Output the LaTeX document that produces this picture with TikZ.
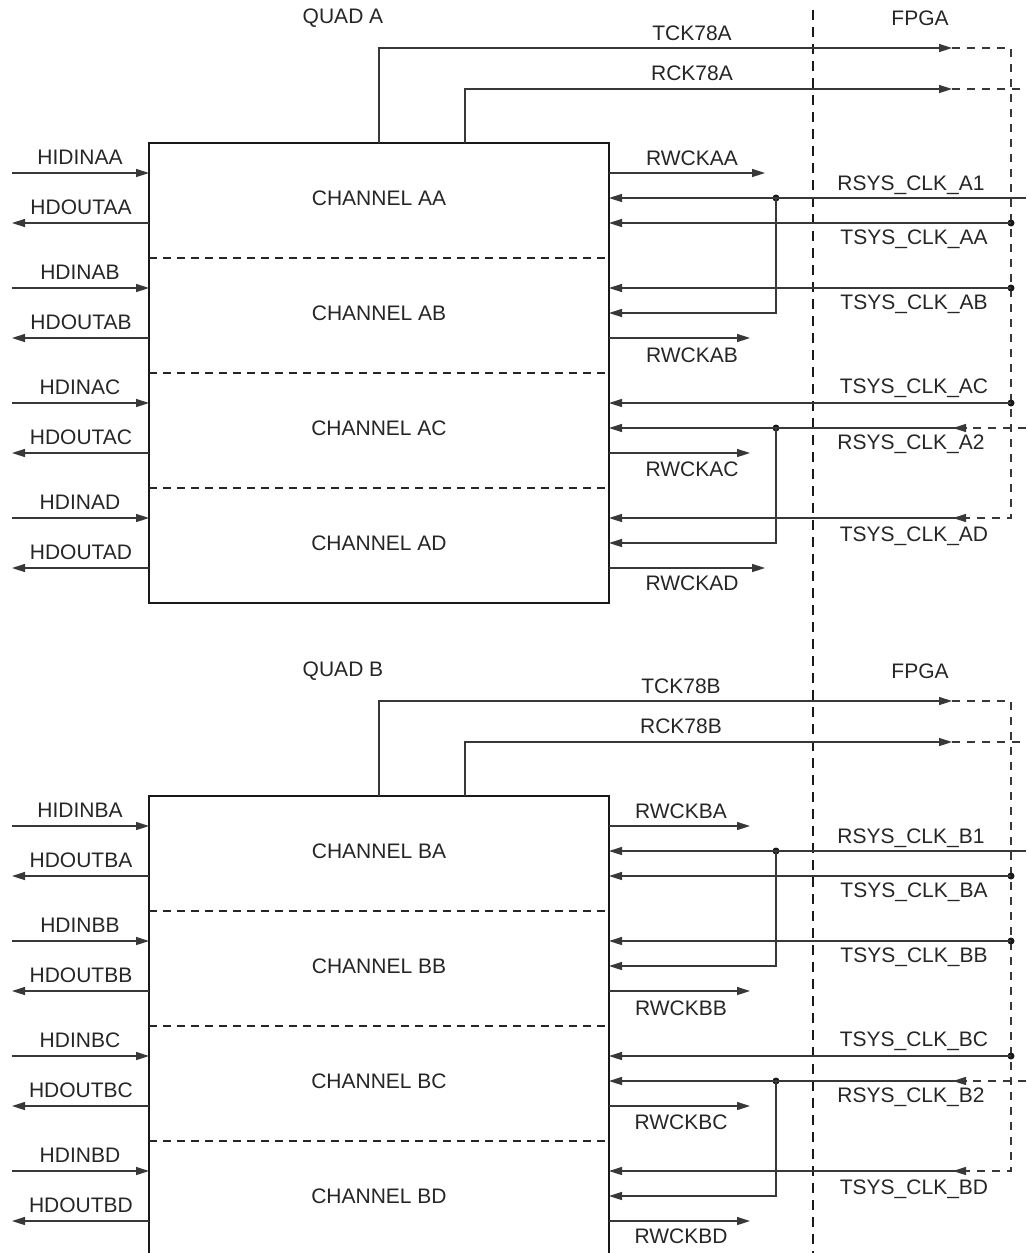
\documentclass[tikz,border=0pt]{standalone}
\usepackage{fontspec}
\setmainfont{Liberation Sans}
\usetikzlibrary{arrows.meta}

\begin{document}
\begin{tikzpicture}[x=1pt,y=-1pt,
  wire/.style={line width=1.5pt,draw=black!78},
  sig/.style={wire,-{Triangle[length=13pt,width=8pt]}},
  blk/.style={draw=black!90,line width=2.4pt,inner sep=0pt,outer sep=0pt},
  divider/.style={draw=black!85,line width=2.2pt,dash pattern=on 8pt off 6pt},
  border/.style={draw=black!90,line width=2.8pt,dash pattern=on 10pt off 7pt},
  fpgaedge/.style={draw=black!78,line width=1.3pt,dash pattern=on 8pt off 7pt},
  lbl/.style={font=\fontsize{21}{24}\selectfont,text=black!85,inner sep=0pt},
  junction/.style={circle,fill=black!90,inner sep=0pt,minimum size=7pt},
]
\useasboundingbox (0,0) rectangle (1026,1253);
\clip (0,0) rectangle (1026,1253);

% chip / FPGA boundary
\coordinate (bndT) at (813,10);
\coordinate (bndB) at (813,1253);
\draw[border] (bndT) -- (bndB);

\foreach \q/\dy/\rx/\ra/\rd in {A/0/692/765/765,B/653/681/750/750}{
\begin{scope}[shift={(0,\dy)}]
  % quad block split into four channels
  \node[blk,anchor=north west,minimum width=460pt,minimum height=460pt] (box\q) at (149,143) {};
  \foreach \yy in {258,373,488} \draw[divider] (149,\yy) -- (609,\yy);
  \foreach \k/\yy in {A/198,B/313,C/428,D/543}
    \node[lbl] (ch\q\k) at (379,\yy) {CHANNEL \q\k};

  \node[lbl] (quad\q) at (343,18) {QUAD \q};
  \node[lbl] (fpga\q) at (920,18) {FPGA};

  % host side data pins
  \foreach \k/\i/\nin in {A/0/HIDIN,B/1/HDIN,C/2/HDIN,D/3/HDIN}{
    \coordinate (hin\q\k) at (12,{173+115*\i});
    \coordinate (pin\q\k) at (149,{173+115*\i});
    \draw[sig] (hin\q\k) -- (pin\q\k);
    \node[lbl] (lin\q\k) at (80,{157+115*\i}) {\nin\q\k};
    \coordinate (pout\q\k) at (149,{223+115*\i});
    \coordinate (hout\q\k) at (12,{223+115*\i});
    \draw[sig] (pout\q\k) -- (hout\q\k);
    \node[lbl] (lout\q\k) at (81,{207+115*\i}) {HDOUT\q\k};
  }

  % transmit / receive reference clocks to the FPGA
  \coordinate (tckS\q) at (379,143);
  \coordinate (tckC\q) at (379,48);
  \coordinate (tckE\q) at (952,48);
  \coordinate (rckS\q) at (465,143);
  \coordinate (rckC\q) at (465,89);
  \coordinate (rckE\q) at (952,89);
  \coordinate (rckF\q) at (1026,89);
  \coordinate (fpTop\q) at (1011,48);
  \coordinate (fpBot\q) at (1011,518);
  \draw[sig] (tckS\q) -- (tckC\q) -- (tckE\q);
  \draw[sig] (rckS\q) -- (rckC\q) -- (rckE\q);
  \draw[fpgaedge] (tckE\q) -- (fpTop\q) -- (fpBot\q) -- (967,518);
  \draw[fpgaedge] (rckE\q) -- (rckF\q);
  \node[lbl] (tckL\q) at (\rx,33) {TCK78\q};
  \node[lbl] (rckL\q) at (\rx,73) {RCK78\q};

  % recovered word clocks
  \coordinate (rwA\q) at (609,173); \coordinate (rwAe\q) at (\ra,173);
  \coordinate (rwB\q) at (609,338); \coordinate (rwBe\q) at (750,338);
  \coordinate (rwC\q) at (609,453); \coordinate (rwCe\q) at (750,453);
  \coordinate (rwD\q) at (609,568); \coordinate (rwDe\q) at (\rd,568);
  \draw[sig] (rwA\q) -- (rwAe\q);
  \draw[sig] (rwB\q) -- (rwBe\q);
  \draw[sig] (rwC\q) -- (rwCe\q);
  \draw[sig] (rwD\q) -- (rwDe\q);
  \node[lbl] (rwAL\q) at (\rx,158) {RWCK\q A};
  \node[lbl] (rwBL\q) at (\rx,355) {RWCK\q B};
  \node[lbl] (rwCL\q) at (\rx,469) {RWCK\q C};
  \node[lbl] (rwDL\q) at (\rx,583) {RWCK\q D};

  % system clocks from the FPGA
  \node[junction] (j1\q) at (776,198) {};
  \node[junction] (j2\q) at (776,428) {};
  \node[junction] (ta\q) at (1011,223) {};
  \node[junction] (tb\q) at (1011,288) {};
  \node[junction] (tc\q) at (1011,403) {};
  \coordinate (rs1F\q) at (1026,198);
  \coordinate (rs1P\q) at (609,198);
  \coordinate (taP\q) at (609,223);
  \coordinate (tbP\q) at (609,288);
  \coordinate (j1P\q) at (609,313);
  \coordinate (tcP\q) at (609,403);
  \coordinate (rs2P\q) at (609,428);
  \coordinate (tdP\q) at (609,518);
  \coordinate (j2P\q) at (609,543);
  \coordinate (rs2F\q) at (1026,428);
  \coordinate (rs2M\q) at (967,428);
  \coordinate (rs2T\q) at (953,428);
  \coordinate (tdM\q) at (967,518);
  \coordinate (tdT\q) at (953,518);

  \draw[sig] (rs1F\q) -- (rs1P\q);
  \draw[sig] (j1\q.center) |- (j1P\q);
  \draw[sig] (ta\q.center) -- (taP\q);
  \draw[sig] (tb\q.center) -- (tbP\q);
  \draw[sig] (tc\q.center) -- (tcP\q);
  \draw[fpgaedge] (rs2F\q) -- (rs2M\q);
  \draw[sig] (rs2M\q) -- (rs2T\q);
  \draw[sig] (rs2M\q) -- (rs2P\q);
  \draw[sig] (j2\q.center) |- (j2P\q);
  \draw[sig] (tdM\q) -- (tdT\q);
  \draw[sig] (tdM\q) -- (tdP\q);

  \node[lbl] (rs1L\q) at (911,185) {RSYS\_CLK\_\q1};
  \node[lbl] (taL\q) at (914,239) {TSYS\_CLK\_\q A};
  \node[lbl] (tbL\q) at (914,304) {TSYS\_CLK\_\q B};
  \node[lbl] (tcL\q) at (914,388) {TSYS\_CLK\_\q C};
  \node[lbl] (rs2L\q) at (911,444) {RSYS\_CLK\_\q2};
  \node[lbl] (tdL\q) at (914,536) {TSYS\_CLK\_\q D};
\end{scope}
}
\end{tikzpicture}
\end{document}
